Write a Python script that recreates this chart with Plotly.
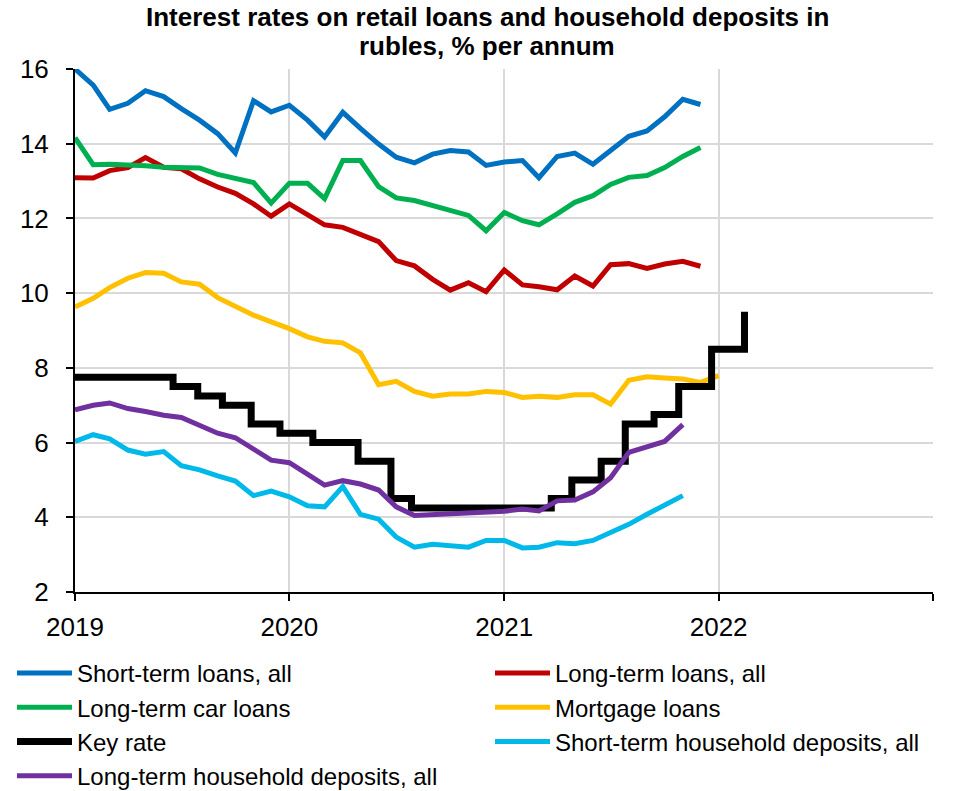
import pandas as pd
import plotly.graph_objects as go

# ---------------- data ----------------
months_loans = pd.date_range("2019-01-01", periods=36, freq="MS")
months_mortgage = pd.date_range("2019-01-01", periods=37, freq="MS")
months_deposits = pd.date_range("2019-01-01", periods=35, freq="MS")

short_term_loans = [16.0, 15.57, 14.92, 15.08, 15.42, 15.26, 14.94, 14.63, 14.27, 13.75, 15.15, 14.85,
                    15.03, 14.63, 14.18, 14.84, 14.41, 13.99, 13.64, 13.49, 13.72, 13.82, 13.78, 13.42,
                    13.51, 13.55, 13.09, 13.66, 13.75, 13.45, 13.82, 14.20, 14.34, 14.72, 15.19, 15.05]
long_term_loans = [13.09, 13.08, 13.28, 13.36, 13.63, 13.37, 13.33, 13.06, 12.84, 12.67, 12.39, 12.06,
                   12.39, 12.10, 11.83, 11.76, 11.58, 11.38, 10.87, 10.73, 10.37, 10.08, 10.28, 10.04,
                   10.62, 10.22, 10.17, 10.09, 10.46, 10.19, 10.76, 10.79, 10.66, 10.78, 10.85, 10.72]
car_loans = [14.16, 13.44, 13.45, 13.44, 13.41, 13.37, 13.35, 13.35, 13.18, 13.06, 12.96, 12.41,
             12.94, 12.94, 12.53, 13.55, 13.55, 12.85, 12.55, 12.48, 12.34, 12.19, 12.08, 11.67,
             12.16, 11.94, 11.83, 12.12, 12.43, 12.61, 12.91, 13.10, 13.15, 13.36, 13.66, 13.90]
mortgage_loans = [9.63, 9.86, 10.15, 10.40, 10.55, 10.53, 10.30, 10.24, 9.88, 9.66, 9.41, 9.23,
                  9.05, 8.83, 8.71, 8.67, 8.40, 7.55, 7.64, 7.37, 7.24, 7.30, 7.30, 7.37,
                  7.34, 7.21, 7.24, 7.21, 7.28, 7.28, 7.03, 7.67, 7.76, 7.73, 7.70, 7.61, 7.79]
st_deposits = [6.03, 6.21, 6.10, 5.80, 5.69, 5.76, 5.38, 5.27, 5.11, 4.97, 4.58, 4.70,
               4.55, 4.31, 4.28, 4.82, 4.08, 3.95, 3.47, 3.20, 3.28, 3.25, 3.20, 3.38,
               3.38, 3.18, 3.20, 3.32, 3.29, 3.38, 3.59, 3.81, 4.08, 4.31, 4.58]
lt_deposits = [6.88, 7.00, 7.06, 6.91, 6.83, 6.73, 6.67, 6.46, 6.25, 6.13, 5.83, 5.53,
               5.46, 5.17, 4.86, 4.98, 4.89, 4.73, 4.28, 4.05, 4.07, 4.09, 4.12, 4.14,
               4.16, 4.22, 4.17, 4.44, 4.46, 4.68, 5.06, 5.74, 5.87, 6.03, 6.48]

key_rate_dates = ["2019-01-01", "2019-06-17", "2019-07-29", "2019-09-09", "2019-10-28", "2019-12-16",
                  "2020-02-10", "2020-04-27", "2020-06-22", "2020-07-27", "2021-03-22", "2021-04-26",
                  "2021-06-15", "2021-07-26", "2021-09-13", "2021-10-25", "2021-12-20", "2022-02-14"]
key_rate = [7.75, 7.5, 7.25, 7.0, 6.5, 6.25, 6.0, 5.5, 4.5, 4.25, 4.5, 5.0,
            5.5, 6.5, 6.75, 7.5, 8.5, 9.5]

year_ticks = ["2019-01-01", "2020-01-01", "2021-01-01", "2022-01-01", "2023-01-01"]
year_labels = ["2019", "2020", "2021", "2022", ""]

title_line1 = "Interest rates on retail loans and household deposits in"
title_line2 = "rubles, % per annum"

# ---------------- figure ----------------
FONT = "Liberation Sans, Arial, sans-serif"
fig = go.Figure()

def add(x, y, name, color, legend, rank, width=5, shape="linear"):
    fig.add_trace(go.Scatter(x=x, y=y, name=name, mode="lines", legend=legend, legendrank=rank,
                             line=dict(color=color, width=width, shape=shape)))

add(months_loans, short_term_loans, "Short-term loans, all", "#0070C0", "legend", 1)
add(months_loans, long_term_loans, "Long-term loans, all", "#C00000", "legend2", 1)
add(months_loans, car_loans, "Long-term car loans", "#00B050", "legend", 2)
add(months_mortgage, mortgage_loans, "Mortgage loans", "#FFC000", "legend2", 2)
add(key_rate_dates, key_rate, "Key rate", "#000000", "legend", 3, width=7, shape="hv")
add(months_deposits, st_deposits, "Short-term household deposits, all", "#00B9E8", "legend2", 3)
add(months_deposits, lt_deposits, "Long-term household deposits, all", "#7030A0", "legend", 4)

for txt, yc in [(title_line1, 17), (title_line2, 46)]:
    fig.add_annotation(text="<b>" + txt + "</b>", xref="paper", yref="paper",
                       x=(487 - 75) / 858, xanchor="center",
                       y=(592 - yc) / 523, yanchor="middle", showarrow=False,
                       font=dict(family=FONT, size=26, color="black"))

legend_style = dict(orientation="v", xref="container", yref="container",
                    xanchor="left", y=1 - 651 / 791, yanchor="top",
                    font=dict(family=FONT, size=24, color="black"),
                    itemwidth=55, tracegroupgap=0, bgcolor="rgba(0,0,0,0)",
                    traceorder="normal")

fig.update_layout(
    width=977, height=791,
    margin=dict(l=75, r=44, t=69, b=199, autoexpand=False),
    paper_bgcolor="white", plot_bgcolor="white",
    font=dict(family=FONT, size=26, color="black"),
    showlegend=True,
    legend=dict(x=12 / 977, **legend_style),
    legend2=dict(x=490 / 977, **legend_style),
)

fig.update_xaxes(type="date", range=["2019-01-01", "2023-01-01"],
                 tickvals=year_ticks, ticktext=year_labels,
                 showgrid=True, gridcolor="#D9D9D9", gridwidth=1.5,
                 showline=True, linecolor="black", linewidth=2,
                 ticks="outside", ticklen=7, tickwidth=2, tickcolor="black",
                 ticklabelstandoff=4, zeroline=False, automargin=False,
                 tickfont=dict(family=FONT, size=26, color="black"))
fig.update_yaxes(range=[2, 16], dtick=2, tick0=2,
                 showgrid=True, gridcolor="#D9D9D9", gridwidth=1.5,
                 showline=True, linecolor="black", linewidth=2,
                 ticks="outside", ticklen=7, tickwidth=2, tickcolor="black",
                 ticklabelstandoff=12, zeroline=False, automargin=False,
                 tickfont=dict(family=FONT, size=26, color="black"))

fig.write_html("out.html")
